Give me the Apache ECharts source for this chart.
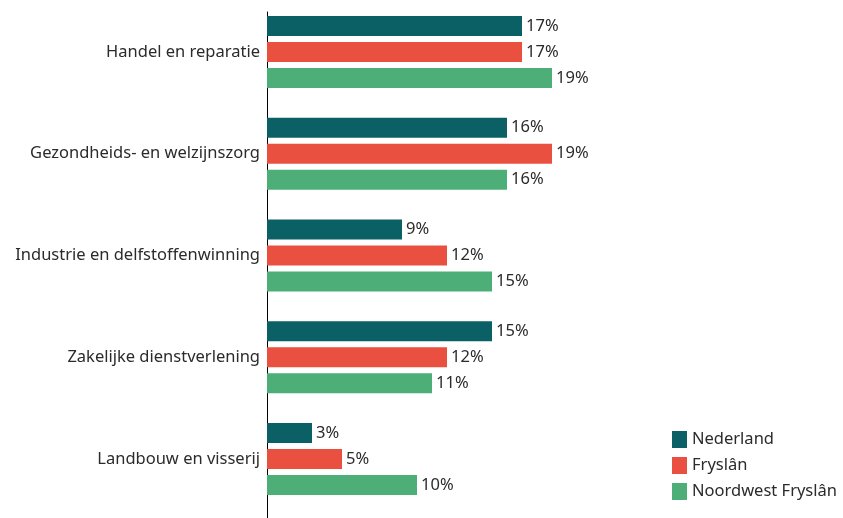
<!DOCTYPE html>
<html>
<head>
<meta charset="utf-8">
<script src="https://cdn.jsdelivr.net/npm/echarts@6/dist/echarts.min.js"></script>
<style>html,body{margin:0;padding:0;background:#fff}#c{width:843px;height:518px}</style>
</head>
<body>
<div id="c"></div>
<script>
const categories = ['Handel en reparatie', 'Gezondheids- en welzijnszorg', 'Industrie en delfstoffenwinning', 'Zakelijke dienstverlening', 'Landbouw en visserij'];
const seriesNames = ['Nederland', 'Fryslân', 'Noordwest Fryslân'];
const nederland = [17, 16, 9, 15, 3];
const fryslan = [17, 19, 12, 12, 5];
const noordwest = [19, 16, 15, 11, 10];

const colors = ['#0a6064', '#e9503f', '#4daf77'];
const FONT = '"Noto Sans", sans-serif';
const chart = echarts.init(document.getElementById('c'), null, {renderer: 'canvas'});
const mk = (name, data, i) => ({
  name, type: 'bar', data, xAxisIndex: 0, yAxisIndex: 0,
  barWidth: 20, barGap: '30%',
  itemStyle: {color: colors[i]},
  label: {show: true, position: 'right', distance: 4, formatter: '{c}%', color: '#2b2b2b', fontSize: 16.5, fontFamily: FONT},
  emphasis: {disabled: true}, animation: false
});
chart.setOption({
  animation: false,
  grid: [
    {left: 267, right: 201, top: 1, bottom: 8},
    {left: 267, right: 201, top: 12, bottom: 0}
  ],
  legend: {
    orient: 'vertical', left: 667, top: 426, itemWidth: 15, itemHeight: 17, itemGap: 9,
    icon: 'rect', data: seriesNames,
    textStyle: {fontSize: 16.5, color: '#2b2b2b', fontFamily: FONT}
  },
  xAxis: [
    {type: 'value', min: 0, max: 25, show: false, gridIndex: 0},
    {type: 'value', min: 0, max: 25, show: false, gridIndex: 1}
  ],
  yAxis: [
    {type: 'category', data: categories, inverse: true, gridIndex: 0,
     axisLine: {show: false}, axisTick: {show: false},
     axisLabel: {color: '#2b2b2b', fontSize: 16.5, fontFamily: FONT, margin: 7}},
    {type: 'category', data: categories, inverse: true, gridIndex: 1,
     axisLine: {show: true, lineStyle: {color: '#000', width: 1}}, axisTick: {show: false},
     axisLabel: {show: false}}
  ],
  series: [mk(seriesNames[0], nederland, 0), mk(seriesNames[1], fryslan, 1), mk(seriesNames[2], noordwest, 2)]
});
</script>
</body>
</html>
